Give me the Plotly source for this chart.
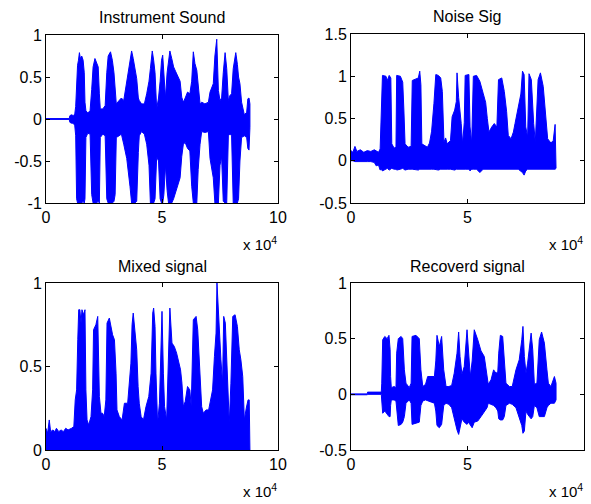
import plotly.graph_objects as go

# ---------------- data (x in samples/1000, envelope values) ----------------
ins_x = [0.0, 10.0, 10.3, 11.0, 11.8, 12.4, 12.8, 13.2, 13.6, 14.0, 14.4, 14.8, 15.4, 16.0, 16.5, 16.8,
         17.2, 18.0, 19.0, 19.7, 20.3, 21.1, 21.8, 22.5, 23.0, 23.4, 24.5, 25.5, 26.2, 26.8, 27.8, 28.6,
         29.3, 29.8, 30.3, 31.5, 32.5, 33.5, 34.8, 35.6, 36.2, 36.9, 37.6, 38.3, 39.1, 39.8, 40.2, 41.2,
         42.4, 43.4, 44.4, 45.0, 45.8, 46.4, 47.0, 47.7, 48.5, 49.2, 49.8, 50.3, 50.8, 51.5, 52.2, 52.8,
         53.4, 54.2, 55.0, 55.8, 56.8, 57.8, 58.5, 59.2, 60.0, 61.0, 62.0, 62.8, 63.5, 64.2, 65.0, 65.6,
         66.4, 67.1, 68.5, 70.0, 70.7, 72.1, 72.8, 73.6, 74.3, 75.0, 75.7, 76.4, 77.2, 77.9, 78.6, 79.3,
         80.0, 80.7, 81.8, 82.5, 83.0, 83.6, 84.3, 85.5, 86.5, 87.0, 87.5, 87.9]
ins_hi = [0.005, 0.005, 0.04, 0.05, 0.04, 0.06, 0.15, 0.40, 0.64, 0.70, 0.79, 0.72, 0.75, 0.70, 0.55, 0.20,
          0.10, 0.07, 0.10, 0.35, 0.62, 0.72, 0.68, 0.62, 0.30, 0.12, 0.12, 0.16, 0.55, 0.75, 0.80, 0.70,
          0.55, 0.30, 0.18, 0.22, 0.25, 0.22, 0.45, 0.55, 0.70, 0.81, 0.72, 0.62, 0.48, 0.25, 0.22, 0.18,
          0.18, 0.30, 0.45, 0.60, 0.81, 0.70, 0.55, 0.12, 0.25, 0.45, 0.70, 0.76, 0.50, 0.25, 0.55, 0.72,
          0.81, 0.72, 0.62, 0.57, 0.50, 0.45, 0.26, 0.20, 0.25, 0.32, 0.30, 0.45, 0.80, 0.66, 0.58, 0.42,
          0.18, 0.20, 0.18, 0.20, 0.32, 0.42, 0.75, 0.95, 0.34, 0.22, 0.25, 0.55, 0.79, 0.60, 0.22, 0.28,
          0.30, 0.60, 0.79, 0.65, 0.50, 0.42, 0.20, 0.05, 0.08, 0.24, 0.25, 0.18]
ins_lo = [-0.005, -0.005, -0.04, -0.05, -0.05, -0.08, -0.20, -0.95, -1.0, -1.0, -1.0, -1.0, -1.0, -0.98, -1.0, -0.95,
          -0.22, -0.17, -0.18, -0.90, -1.0, -1.0, -1.0, -0.98, -1.0, -0.22, -0.18, -0.20, -0.95, -1.0, -1.0, -1.0,
          -0.98, -0.90, -0.22, -0.20, -0.18, -0.30, -0.47, -0.65, -0.80, -1.0, -1.0, -1.0, -0.98, -0.40, -0.20, -0.15,
          -0.18, -0.30, -0.55, -1.0, -1.0, -1.0, -0.95, -0.45, -0.50, -0.95, -1.0, -1.0, -0.90, -0.55, -0.85, -1.0,
          -1.0, -1.0, -0.95, -0.88, -0.80, -0.70, -0.45, -0.30, -0.28, -0.35, -0.38, -0.80, -1.0, -1.0, -1.0, -0.60,
          -0.30, -0.15, -0.16, -0.15, -0.47, -0.70, -1.0, -1.0, -1.0, -0.55, -0.45, -0.98, -1.0, -1.0, -0.20, -0.18,
          -0.20, -1.0, -1.0, -1.0, -0.95, -0.50, -0.22, -0.20, -0.22, -0.35, -0.37, -0.10]

noi_x = [0.0, 0.8, 1.7, 2.5, 4.0, 5.5, 7.0, 8.5, 10.0, 10.8, 11.8, 12.5, 12.9, 13.5, 15.0, 15.6, 16.4, 17.1,
         17.5, 18.5, 19.3, 19.6, 21.2, 22.2, 22.7, 23.2, 24.5, 25.8, 26.3, 27.5, 28.9, 29.5, 30.0, 30.4,
         31.5, 32.8, 33.7, 34.6, 35.6, 36.4, 37.5, 38.5, 39.2, 39.9, 40.6, 41.3, 42.7, 43.4, 44.5, 45.2,
         45.5, 46.2, 47.3, 47.9, 48.6, 49.0, 50.6, 51.1, 51.8, 52.5, 53.9, 55.3, 56.7, 57.8, 58.5, 59.2,
         60.4, 61.5, 62.6, 63.3, 64.7, 65.8, 66.8, 67.5, 68.7, 69.7, 70.4, 71.8, 72.9, 73.6, 74.3, 75.0,
         75.8, 76.4, 77.4, 78.4, 79.1, 80.3, 81.3, 82.5, 83.5, 84.4, 85.8, 86.8, 87.6, 88.0]
noi_hi = [0.12, 0.10, 0.17, 0.11, 0.13, 0.10, 0.12, 0.11, 0.13, 0.12, 0.10, 0.14, 0.48, 1.01, 1.00, 0.95, 1.01, 0.98,
          0.20, 0.15, 0.16, 1.01, 1.00, 0.93, 0.60, 0.20, 0.16, 0.17, 0.95, 0.96, 0.98, 1.06, 0.90, 0.20,
          0.18, 0.16, 0.21, 0.35, 0.68, 1.02, 1.01, 0.98, 0.82, 0.22, 0.27, 0.20, 0.24, 0.52, 0.60, 0.70,
          1.04, 0.75, 0.44, 0.20, 0.45, 1.01, 1.02, 0.40, 0.21, 1.00, 1.01, 0.94, 0.80, 0.69, 0.50, 0.34,
          0.40, 0.44, 0.40, 0.96, 0.98, 0.82, 0.58, 0.30, 0.26, 0.34, 0.44, 0.63, 0.79, 1.06, 1.02, 0.40,
          0.28, 1.03, 0.96, 0.44, 0.22, 0.96, 1.04, 0.88, 0.60, 0.26, 0.21, 0.24, 0.43, 0.10]
noi_lo = [0.0, 0.0, -0.01, -0.01, -0.01, -0.01, -0.01, -0.01, -0.02, -0.06, -0.05, -0.11, -0.10, -0.12, -0.10, -0.09, -0.11, -0.10,
          -0.09, -0.10, -0.10, -0.11, -0.10, -0.09, -0.10, -0.11, -0.10, -0.10, -0.10, -0.10, -0.11, -0.10, -0.10, -0.10,
          -0.10, -0.10, -0.10, -0.10, -0.10, -0.10, -0.11, -0.10, -0.10, -0.10, -0.10, -0.10, -0.10, -0.10, -0.11, -0.10,
          -0.10, -0.10, -0.10, -0.10, -0.10, -0.10, -0.10, -0.12, -0.10, -0.10, -0.10, -0.14, -0.10, -0.10, -0.10, -0.10,
          -0.10, -0.10, -0.10, -0.10, -0.10, -0.10, -0.10, -0.10, -0.10, -0.10, -0.10, -0.10, -0.12, -0.14, -0.17, -0.12,
          -0.10, -0.10, -0.10, -0.10, -0.10, -0.10, -0.10, -0.10, -0.10, -0.10, -0.10, -0.10, -0.10, -0.09]

mix_x = [0.0, 0.7, 1.4, 2.0, 3.0, 3.8, 4.5, 5.5, 6.5, 7.5, 8.5, 9.5, 11.0, 12.0, 12.6, 13.2, 13.7, 14.1,
         14.6, 15.1, 15.5, 16.2, 16.8, 17.2, 17.7, 18.4, 19.4, 20.1, 20.5, 21.5, 22.3, 22.7, 23.0, 23.7,
         24.4, 25.1, 25.8, 26.3, 27.3, 28.7, 29.5, 30.2, 30.6, 31.6, 32.8, 33.8, 35.2, 36.6, 37.1, 37.6,
         38.5, 39.1, 39.7, 40.2, 41.0, 42.0, 43.1, 44.3, 45.3, 46.0, 46.4, 47.0, 47.4, 48.1, 48.9, 49.6,
         50.0, 50.6, 51.1, 52.0, 52.9, 53.4, 54.3, 55.3, 56.3, 57.2, 58.0, 58.6, 59.2, 60.0, 61.0, 62.0,
         62.6, 63.5, 64.7, 65.4, 65.9, 66.4, 67.1, 67.8, 69.0, 70.1, 71.1, 71.8, 72.6, 73.3, 73.7, 74.1,
         74.7, 75.4, 76.1, 76.6, 77.3, 78.3, 79.0, 79.7, 80.5, 81.5, 82.5, 83.3, 84.0, 84.8, 85.5, 86.3,
         87.1, 87.6, 87.9]
mix_hi = [0.13, 0.10, 0.18, 0.11, 0.12, 0.11, 0.13, 0.11, 0.12, 0.11, 0.13, 0.12, 0.13, 0.14, 0.30, 0.36, 0.66, 0.84,
          0.84, 0.76, 0.84, 0.81, 0.84, 0.36, 0.18, 0.15, 0.20, 0.36, 0.72, 0.75, 0.80, 0.60, 0.32, 0.22,
          0.22, 0.20, 0.30, 0.76, 0.79, 0.69, 0.66, 0.46, 0.24, 0.20, 0.18, 0.28, 0.28, 0.52, 0.75, 0.82,
          0.68, 0.60, 0.38, 0.28, 0.20, 0.18, 0.26, 0.32, 0.46, 0.82, 0.85, 0.74, 0.46, 0.16, 0.28, 0.70,
          0.83, 0.46, 0.26, 0.18, 0.64, 0.85, 0.64, 0.62, 0.58, 0.52, 0.48, 0.40, 0.26, 0.29, 0.38, 0.36,
          0.26, 0.78, 0.80, 0.72, 0.56, 0.42, 0.26, 0.22, 0.24, 0.24, 0.32, 0.36, 0.56, 0.70, 1.00, 0.88,
          0.70, 0.54, 0.40, 0.80, 0.76, 0.40, 0.16, 0.40, 0.80, 0.81, 0.74, 0.60, 0.54, 0.44, 0.18, 0.25,
          0.30, 0.30, 0.0]

rec_x = [0.0, 7.0, 7.1, 13.0, 13.2, 13.6, 14.5, 15.5, 16.3, 16.8, 17.0, 17.3, 18.5, 19.3, 19.6, 20.3, 21.5, 22.2,
         22.9, 23.6, 25.0, 25.8, 26.2, 27.9, 29.3, 30.0, 30.8, 32.0, 32.9, 34.5, 35.8, 36.4, 36.9, 37.9,
         38.9, 39.8, 40.8, 42.0, 43.2, 44.3, 45.5, 46.2, 46.8, 47.6, 48.6, 49.8, 50.4, 51.2, 52.0, 52.9,
         54.4, 55.8, 57.2, 58.4, 58.9, 60.1, 61.2, 62.2, 63.0, 63.4, 64.1, 65.1, 65.8, 66.5, 68.0, 69.2,
         70.8, 72.2, 73.3, 73.8, 74.4, 75.1, 75.8, 77.3, 78.0, 78.7, 79.8, 80.8, 81.8, 83.0, 84.1, 84.7,
         85.8, 87.3, 88.0]
rec_hi = [0.004, 0.004, 0.02, 0.02, 0.10, 0.49, 0.52, 0.50, 0.53, 0.40, 0.16, 0.06, 0.07, 0.06, 0.37, 0.50, 0.52, 0.50,
          0.22, 0.10, 0.06, 0.10, 0.52, 0.53, 0.50, 0.22, 0.07, 0.09, 0.16, 0.16, 0.16, 0.30, 0.53, 0.43,
          0.52, 0.22, 0.07, 0.07, 0.08, 0.19, 0.37, 0.56, 0.34, 0.18, 0.25, 0.58, 0.37, 0.16, 0.30, 0.58,
          0.49, 0.39, 0.34, 0.19, 0.09, 0.13, 0.22, 0.19, 0.20, 0.37, 0.53, 0.52, 0.34, 0.10, 0.07, 0.07,
          0.22, 0.31, 0.49, 0.61, 0.34, 0.19, 0.28, 0.55, 0.40, 0.09, 0.10, 0.49, 0.56, 0.46, 0.22, 0.10,
          0.07, 0.16, 0.10]
rec_lo = [-0.004, -0.004, 0.0, 0.0, -0.05, -0.17, -0.15, -0.18, -0.20, -0.20, -0.10, -0.05, -0.05, -0.06, -0.10, -0.28, -0.27, -0.25,
          -0.20, -0.08, -0.05, -0.08, -0.27, -0.26, -0.25, -0.10, -0.06, -0.05, -0.06, -0.07, -0.08, -0.15, -0.28, -0.30,
          -0.27, -0.10, -0.08, -0.09, -0.12, -0.20, -0.32, -0.36, -0.30, -0.22, -0.25, -0.27, -0.25, -0.28, -0.30, -0.25,
          -0.24, -0.20, -0.16, -0.12, -0.08, -0.09, -0.10, -0.12, -0.15, -0.22, -0.23, -0.23, -0.20, -0.10, -0.08, -0.09,
          -0.12, -0.20, -0.28, -0.35, -0.33, -0.15, -0.18, -0.22, -0.20, -0.10, -0.12, -0.20, -0.20, -0.20, -0.12, -0.10,
          -0.08, -0.08, -0.05]

titles = ["Instrument Sound", "Noise Sig", "Mixed signal", "Recoverd signal"]
x_tickvals = [0, 50000, 100000]
x_ticktext = ["0", "5", "10"]
y_ticks = [
    ([-1, -0.5, 0, 0.5, 1], ["-1", "-0.5", "0", "0.5", "1"]),
    ([-0.5, 0, 0.5, 1, 1.5], ["-0.5", "0", "0.5", "1", "1.5"]),
    ([0, 0.5, 1], ["0", "0.5", "1"]),
    ([-0.5, 0, 0.5, 1], ["-0.5", "0", "0.5", "1"]),
]
y_ranges = [[-1, 1], [-0.5, 1.5], [0, 1], [-0.5, 1]]

# ---------------- layout geometry ----------------
W, H = 591, 504
BLUE = "#0000ff"
FONT = "Liberation Sans, Arial, Helvetica, sans-serif"
FS = 16

# pixel boxes (left, right, top, bottom)
boxes = [(46, 278, 35, 203), (351, 584, 34, 203), (46, 278, 283, 450), (351, 584, 283, 450)]

series = [
    (ins_x, ins_hi, ins_lo),
    (noi_x, noi_hi, noi_lo),
    (mix_x, mix_hi, [0.0] * len(mix_x)),
    (rec_x, rec_hi, rec_lo),
]

fig = go.Figure()
for i, (xs, hi, lo) in enumerate(series):
    n = "" if i == 0 else str(i + 1)
    xx = [v * 1000 for v in xs]
    poly_x = xx + xx[::-1]
    poly_y = list(hi) + list(lo)[::-1]
    fig.add_trace(go.Scatter(
        x=poly_x, y=poly_y, mode="lines", fill="toself",
        fillcolor=BLUE, line=dict(color=BLUE, width=1),
        xaxis="x" + n, yaxis="y" + n, showlegend=False, hoverinfo="skip"))

layout = dict(width=W, height=H, autosize=False, margin=dict(l=0, r=0, t=0, b=0, autoexpand=False),
              paper_bgcolor="white", plot_bgcolor="white", showlegend=False,
              font=dict(family=FONT, size=FS, color="black"))
annotations = []
for i, (l, r, t, b) in enumerate(boxes):
    n = "" if i == 0 else str(i + 1)
    axcommon = dict(showline=True, linecolor="black", linewidth=1, mirror="ticks",
                    ticks="inside", ticklen=4, tickcolor="black", showgrid=False,
                    zeroline=False, automargin=False,
                    tickfont=dict(family=FONT, size=FS, color="black"))
    layout["xaxis" + n] = dict(domain=[l / W, r / W], anchor="y" + n, range=[0, 100000],
                               tickvals=x_tickvals, ticktext=x_ticktext, **axcommon)
    layout["yaxis" + n] = dict(domain=[1 - b / H, 1 - t / H], anchor="x" + n, range=y_ranges[i],
                               tickvals=y_ticks[i][0], ticktext=y_ticks[i][1], **axcommon)
    # subplot title
    annotations.append(dict(text=titles[i], xref="paper", yref="paper",
                            x=(l + r) / 2 / W, y=1 - (t - 17) / H, xanchor="center", yanchor="middle",
                            showarrow=False, font=dict(family=FONT, size=FS, color="black")))
    # exponent label
    annotations.append(dict(text="x 10<sup>4</sup>", xref="paper", yref="paper",
                            x=(r + 1) / W, y=1 - (b + 29) / H, xanchor="right", yanchor="top",
                            showarrow=False, font=dict(family=FONT, size=15, color="black")))
layout["annotations"] = annotations
fig.update_layout(**layout)

post = "document.body.style.margin='0';document.body.style.overflow='hidden';"
fig.write_html("out.html", config={"displayModeBar": False}, post_script=post)
